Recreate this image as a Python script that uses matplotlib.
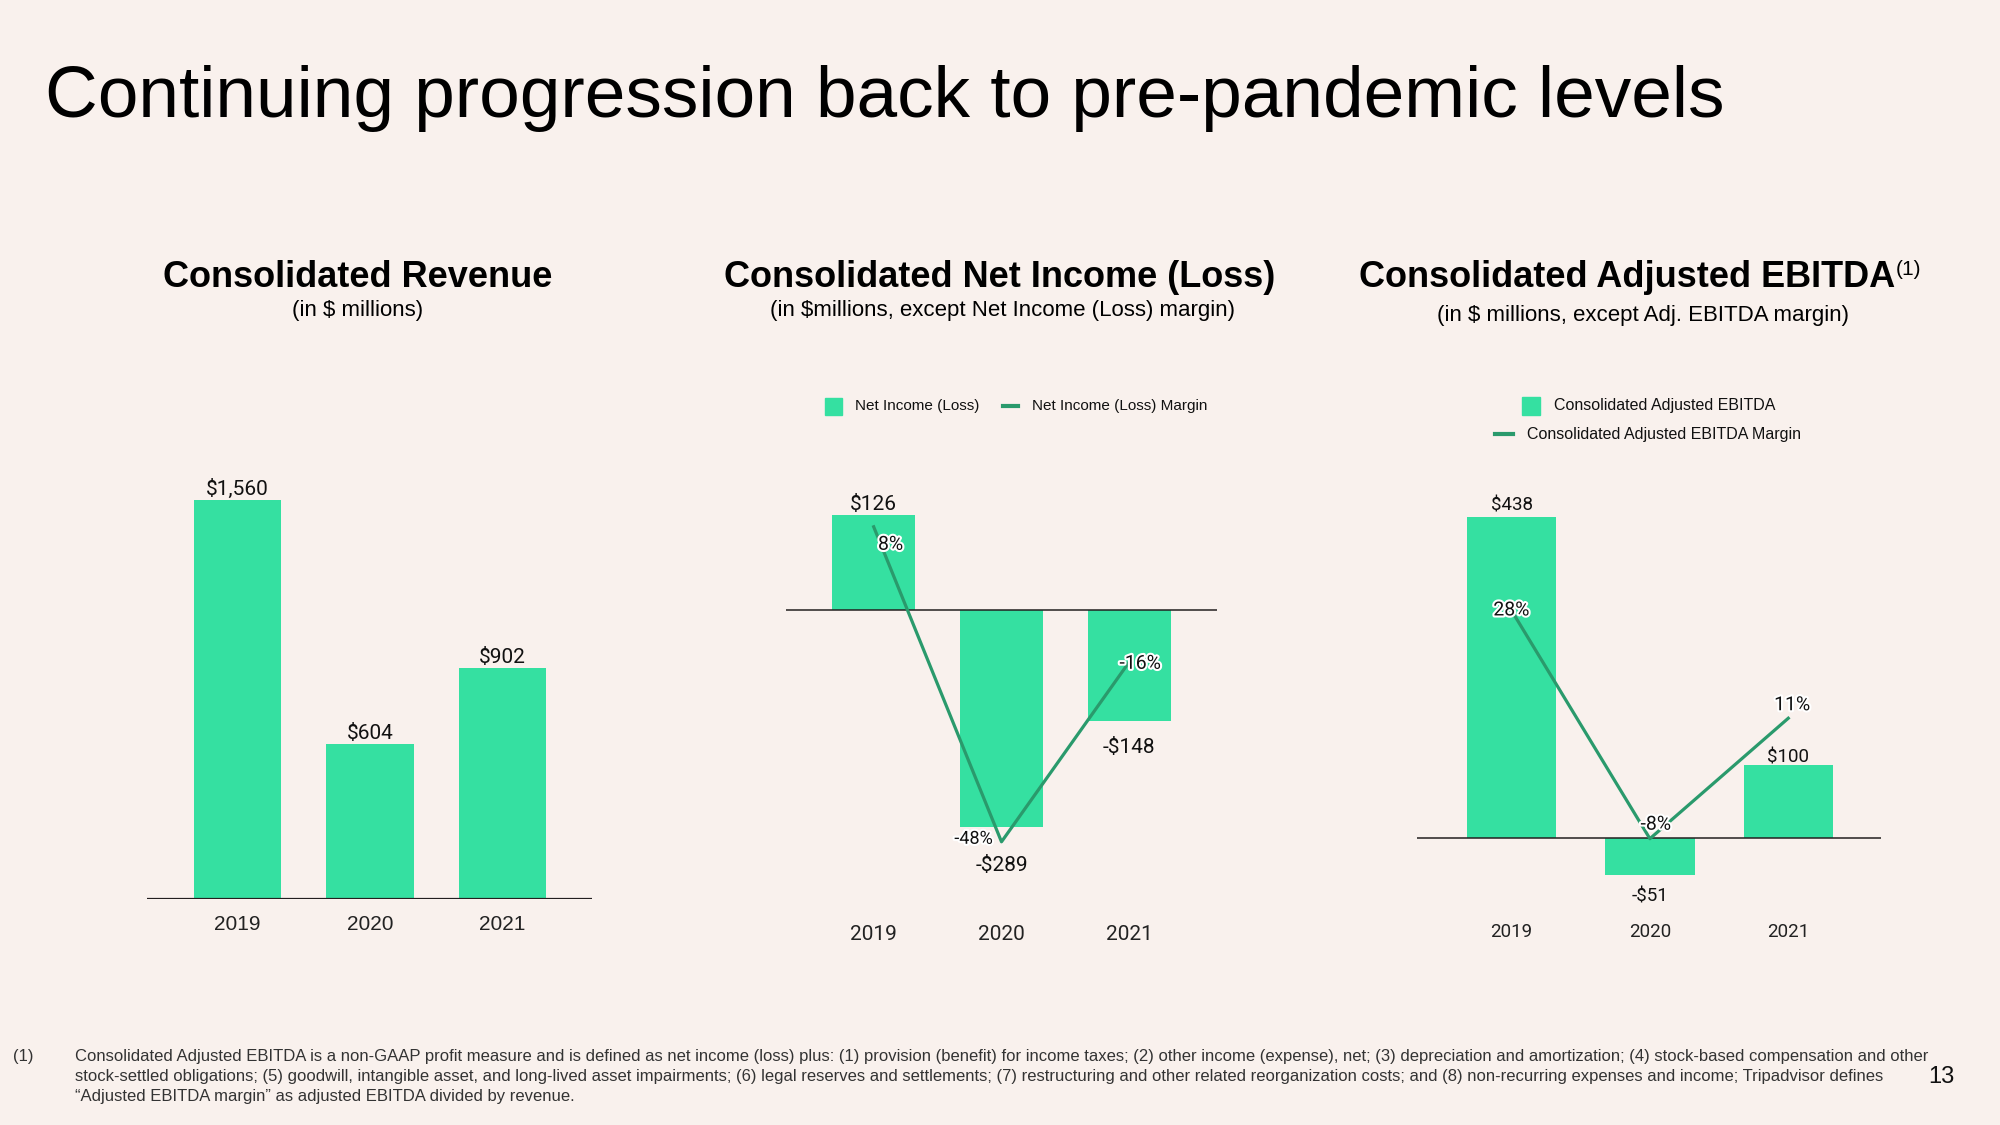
import matplotlib.pyplot as plt
import matplotlib.patheffects as pe
from matplotlib.patches import Rectangle
from matplotlib.lines import Line2D

# data
years = ['2019', '2020', '2021']
revenue = [1560, 604, 902]
net_income = [126, -289, -148]
net_margin = [8, -48, -16]
ebitda = [438, -51, 100]
ebitda_margin = [28, -8, 11]

W, H = 2000, 1125
BG = '#F9F1ED'
BAR = '#35E0A1'
LINE = '#2A9A6C'
INK = '#111111'
SANS = 'Liberation Sans'
ROBOTO = 'Roboto'

fig = plt.figure(figsize=(20, 11.25), dpi=100, facecolor=BG)


def px_axes(left, top, right, bottom):
    ax = fig.add_axes([left / W, 1 - bottom / H, (right - left) / W, (bottom - top) / H])
    ax.set_facecolor('none')
    ax.axis('off')
    return ax


def ftext(x, y, s, **kw):
    return fig.text(x / W, 1 - y / H, s, **kw)


def money(v):
    return ('-$' if v < 0 else '$') + f'{abs(v):,}'


def cat_labels(ax, y, family, size):
    for i, yr in enumerate(years):
        ax.annotate(yr, xy=(i, H - y), xycoords=('data', 'figure pixels'),
                    ha='center', va='center', fontsize=size, family=family, color='#222222')


def value_labels(ax, vals, offsets, size):
    for i, (v, dy) in enumerate(zip(vals, offsets)):
        ax.annotate(money(v), xy=(i, v), xytext=(0, dy), textcoords='offset pixels',
                    ha='center', va='center', fontsize=size, family=ROBOTO, color=INK)


def margin_labels(ax, vals, offsets, sizes):
    for i, (v, off, fs) in enumerate(zip(vals, offsets, sizes)):
        t = ax.annotate(f'{v}%', xy=(i, v), xytext=off, textcoords='offset pixels',
                        ha='center', va='center', fontsize=fs, family=ROBOTO, color=INK)
        t.set_path_effects([pe.withStroke(linewidth=3, foreground='white')])


# title
ftext(45, 117, 'Continuing progression back to pre-pandemic levels', fontsize=52.6,
      family=SANS, color='black', va='baseline')

# chart 1: revenue
ax1 = px_axes(147, 480, 592, 899)
ax1.set_xlim(-0.683, 2.675)
ax1.set_ylim(0, 1638)
ax1.bar(range(3), revenue, width=0.657, color=BAR)
ax1.axhline(0, color='#231F20', lw=1.6)
value_labels(ax1, revenue, [11, 11, 11], 15)
cat_labels(ax1, 924, SANS, 15)
ftext(358, 287, 'Consolidated Revenue', fontsize=26, weight='bold', family=SANS, ha='center', va='baseline')
ftext(358, 316, '(in $ millions)', fontsize=16, family=SANS, ha='center', va='baseline')

# chart 2: net income
ax2 = px_axes(786, 480, 1217, 880)
ax2.set_xlim(-0.686, 2.686)
ax2.set_ylim(-359, 172.9)
ax2.bar(range(3), net_income, width=0.653, color=BAR)
ax2.axhline(0, color='#231F20', lw=1.1)
value_labels(ax2, net_income, [11, -38, -26], 15)
cat_labels(ax2, 934, ROBOTO, 15)
ax2b = ax2.twinx()
ax2b.axis('off')
ax2b.set_ylim(-54.79, 16.32)
ax2b.plot(range(3), net_margin, color=LINE, lw=2.3)
margin_labels(ax2b, net_margin, [(17, -18), (-28, 3), (11, -2)], [14, 13, 14])
ftext(1000, 287, 'Consolidated Net Income (Loss)', fontsize=26, weight='bold', family=SANS, ha='center', va='baseline')
ftext(1003, 316, '(in $millions, except Net Income (Loss) margin)', fontsize=16, family=SANS,
      ha='center', va='baseline')

# legend chart 2
fig.add_artist(Rectangle((825 / W, 1 - 414.5 / H), 17 / W, 17 / H, transform=fig.transFigure, color=BAR))
ftext(855, 406, 'Net Income (Loss)', fontsize=11, family=SANS, va='center', color=INK)
fig.add_artist(Line2D([1003 / W, 1018 / W], [1 - 406 / H] * 2, transform=fig.transFigure, color=LINE, lw=3))
ftext(1032, 406, 'Net Income (Loss) Margin', fontsize=11, family=SANS, va='center', color=INK)

# chart 3: adjusted EBITDA
ax3 = px_axes(1417, 480, 1881, 900)
ax3.set_xlim(-0.683, 2.670)
ax3.set_ylim(-84.6, 488.4)
ax3.bar(range(3), ebitda, width=0.645, color=BAR)
ax3.axhline(0, color='#231F20', lw=1.1)
value_labels(ax3, ebitda, [11, -21, 7], 13.5)
cat_labels(ax3, 932, ROBOTO, 13.5)
ax3b = ax3.twinx()
ax3b.axis('off')
ax3b.set_ylim(-17.67, 48.58)
ax3b.plot(range(3), ebitda_margin, color=LINE, lw=2.3)
margin_labels(ax3b, ebitda_margin, [(0, 0), (6, 14), (4, 13)], [14, 14, 14])
ftext(1627, 287, 'Consolidated Adjusted EBITDA', fontsize=26, weight='bold', family=SANS, ha='center', va='baseline')
ftext(1896, 275, '(1)', fontsize=15, family=SANS, va='baseline')
ftext(1643, 321, '(in $ millions, except Adj. EBITDA margin)', fontsize=16, family=SANS,
      ha='center', va='baseline')

# legend chart 3
fig.add_artist(Rectangle((1522 / W, 1 - 415 / H), 18 / W, 18 / H, transform=fig.transFigure, color=BAR))
ftext(1554, 406, 'Consolidated Adjusted EBITDA', fontsize=11.5, family=SANS, va='center', color=INK)
fig.add_artist(Line2D([1495 / W, 1513 / W], [1 - 434 / H] * 2, transform=fig.transFigure, color=LINE, lw=3))
ftext(1527, 434, 'Consolidated Adjusted EBITDA Margin', fontsize=11.5, family=SANS, va='center', color=INK)

# footnote
notes = [
    'Consolidated Adjusted EBITDA is a non-GAAP profit measure and is defined as net income (loss) plus: '
    '(1) provision (benefit) for income taxes; (2) other income (expense), net; (3) depreciation and '
    'amortization; (4) stock-based compensation and other',
    'stock-settled obligations; (5) goodwill, intangible asset, and long-lived asset impairments; (6) legal '
    'reserves and settlements; (7) restructuring and other related reorganization costs; and (8) '
    'non-recurring expenses and income; Tripadvisor defines',
    '\u201cAdjusted EBITDA margin\u201d as adjusted EBITDA divided by revenue.',
]
ftext(13, 1061, '(1)', fontsize=12, family=SANS, color='#333333', va='baseline')
for k, line in enumerate(notes):
    ftext(75, 1061 + 20 * k, line, fontsize=12, family=SANS, color='#333333', va='baseline')
ftext(1941, 1077, '13', fontsize=17, family=SANS, color=INK, ha='center', va='center')

fig.savefig('out.png', dpi=100, facecolor=BG)
